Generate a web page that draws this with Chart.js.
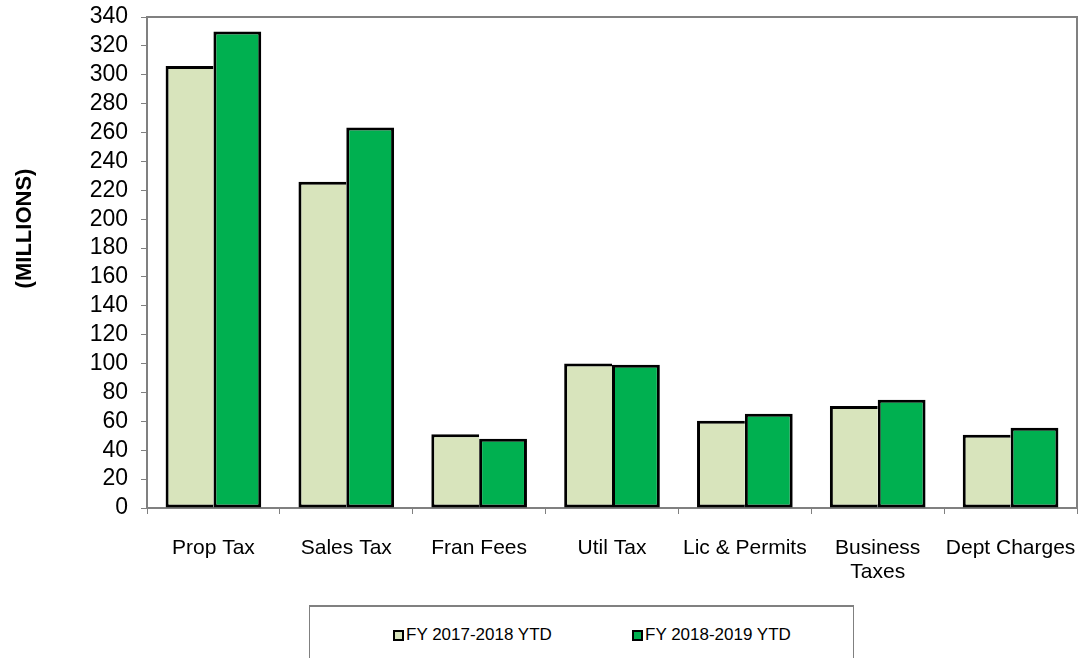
<!DOCTYPE html>
<html>
<head>
<meta charset="utf-8">
<script src="https://cdn.jsdelivr.net/npm/chart.js@4/dist/chart.umd.min.js"></script>
<style>
  html, body { margin: 0; padding: 0; background: #fff; }
  #wrap { position: relative; width: 1080px; height: 658px; overflow: hidden; }
  #legend {
    position: absolute; left: 309px; top: 605px; width: 543px; height: 70px;
    border: 1px solid #808080; border-top-width: 2px; background: #fff;
    font-family: "Liberation Sans", Arial, sans-serif; font-size: 17px; color: #000;
  }
  .item { position: absolute; top: 18px; display: flex; align-items: center; white-space: nowrap; }
  .box { width: 7px; height: 7px; border: 2px solid #000; margin-right: 2px; }
</style>
</head>
<body>
<div id="wrap">
  <canvas id="chart1" width="1080" height="658"></canvas>
  <div id="legend"></div>
</div>
<script>
// Categories and values (millions)
const categories = ['Prop Tax', 'Sales Tax', 'Fran Fees', 'Util Tax', 'Lic & Permits', ['Business', 'Taxes'], 'Dept Charges'];
const fy1718 = [306, 226, 51, 100, 60.5, 70.7, 50.7];
const fy1819 = [330, 263.5, 48, 99.2, 65.3, 74.9, 55.6];
const seriesNames = ['FY 2017-2018 YTD', 'FY 2018-2019 YTD'];
const seriesColors = ['#D8E4BC', '#00B050'];
const yTicks = { min: 0, max: 340, step: 20 };

const font = '"Liberation Sans", Arial, sans-serif';

// frame around the plot + rotated axis title
const framePlugin = {
    id: 'frame',
    afterDraw(chart) {
        const ctx = chart.ctx;
        const a = chart.chartArea;
        ctx.save();
        ctx.strokeStyle = '#808080';
        ctx.lineWidth = 2;
        ctx.beginPath();
        ctx.moveTo(a.left, a.top);
        ctx.lineTo(a.right, a.top);
        ctx.lineTo(a.right, a.bottom);
        ctx.stroke();
        ctx.restore();

        ctx.save();
        ctx.translate(25, (a.top + a.bottom) / 2 - 34);
        ctx.rotate(-Math.PI / 2);
        ctx.font = 'bold 22px ' + font;
        ctx.fillStyle = '#000';
        ctx.textAlign = 'center';
        ctx.textBaseline = 'middle';
        ctx.fillText('(MILLIONS)', 0, 0);
        ctx.restore();
    }
};

const config = {
    type: 'bar',
    data: {
        labels: categories,
        datasets: [
            {
                label: seriesNames[0],
                data: fy1718,
                backgroundColor: seriesColors[0],
                borderColor: '#000',
                borderWidth: { top: 3, left: 3, bottom: 3, right: 0 },
                borderSkipped: false
            },
            {
                label: seriesNames[1],
                data: fy1819,
                backgroundColor: seriesColors[1],
                borderColor: '#000',
                borderWidth: 3,
                borderSkipped: false
            }
        ]
    },
    options: {
        responsive: false,
        animation: false,
        layout: { padding: { left: 0, right: 3, top: 17, bottom: 0 } },
        datasets: { bar: { categoryPercentage: 0.72, barPercentage: 1 } },
        plugins: {
            legend: { display: false },
            tooltip: { enabled: false }
        },
        scales: {
            x: {
                grid: { drawOnChartArea: false, offset: true, tickLength: 6, color: '#808080', lineWidth: 1 },
                border: { color: '#808080', width: 2 },
                ticks: { color: '#000', font: { family: font, size: 21, lineHeight: 1.15 }, padding: 22, maxRotation: 0, autoSkip: false },
                afterFit(scale) {
                    scale.height = 150;
                    scale.paddingLeft = 0;
                    scale.paddingRight = 0;
                }
            },
            y: {
                min: yTicks.min,
                max: yTicks.max,
                grid: { drawOnChartArea: false, tickLength: 6, color: '#808080', lineWidth: 1 },
                border: { color: '#808080', width: 2 },
                ticks: { stepSize: yTicks.step, autoSkip: false, color: '#000', font: { family: font, size: 23 }, padding: 13 },
                afterFit(scale) {
                    scale.width = 147;
                    scale.paddingTop = 0;
                    scale.paddingBottom = 0;
                }
            }
        }
    },
    plugins: [framePlugin]
};

const chartOne = new Chart(document.getElementById('chart1'), config);

// html legend built from the datasets
const legend = document.getElementById('legend');
const lefts = [83, 322];
chartOne.data.datasets.forEach((ds, i) => {
    const item = document.createElement('div');
    item.className = 'item';
    item.style.left = lefts[i] + 'px';
    const box = document.createElement('span');
    box.className = 'box';
    box.style.background = ds.backgroundColor;
    const txt = document.createElement('span');
    txt.textContent = ds.label;
    item.appendChild(box);
    item.appendChild(txt);
    legend.appendChild(item);
});
</script>
</body>
</html>
